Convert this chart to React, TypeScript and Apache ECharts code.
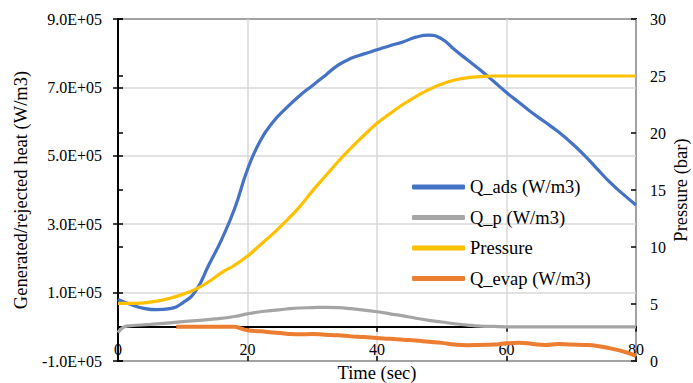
import React, { useEffect, useRef } from "react";
import * as echarts from "echarts";

const time = [0, 2, 4, 6, 8, 10, 12, 14, 16, 18, 20, 22, 24, 26, 28, 30, 32, 34, 36, 38, 40, 42, 44, 46, 48, 50, 52, 54, 56, 58, 60, 62, 64, 66, 68, 70, 72, 74, 76, 78, 80];
const qAds = [0.80, 0.65, 0.54, 0.50, 0.53, 0.70, 1.05, 1.80, 2.55, 3.45, 4.60, 5.45, 6.00, 6.40, 6.75, 7.05, 7.35, 7.65, 7.85, 7.98, 8.10, 8.22, 8.33, 8.47, 8.53, 8.42, 8.10, 7.80, 7.50, 7.18, 6.85, 6.55, 6.25, 5.98, 5.70, 5.38, 5.02, 4.62, 4.22, 3.88, 3.56];
const qPTime = [0, 1, 2, 5, 10, 15, 18, 20, 22, 24, 26, 28, 30, 32, 34, 36, 38, 40, 42, 44, 46, 48, 50, 52, 54, 56, 58, 60, 65, 70, 75, 80];
const qP = [-0.17, 0.0, 0.03, 0.07, 0.15, 0.23, 0.30, 0.38, 0.44, 0.48, 0.52, 0.55, 0.56, 0.57, 0.56, 0.53, 0.49, 0.44, 0.38, 0.32, 0.25, 0.19, 0.14, 0.09, 0.05, 0.02, 0.01, 0.0, 0.0, 0.0, 0.0, 0.0];
const pressure = [5.05, 5.05, 5.1, 5.25, 5.5, 5.85, 6.3, 6.95, 7.75, 8.4, 9.2, 10.2, 11.2, 12.3, 13.5, 14.9, 16.2, 17.5, 18.7, 19.8, 20.85, 21.7, 22.5, 23.2, 23.8, 24.3, 24.65, 24.85, 24.95, 25, 25, 25, 25, 25, 25, 25, 25, 25, 25, 25, 25];
const evapTime = [9, 12, 15, 18, 19, 20, 22, 24, 26, 28, 30, 32, 34, 36, 38, 40, 42, 44, 46, 48, 50, 52, 54, 56, 58, 60, 62, 64, 66, 68, 70, 72, 74, 76, 78, 80];
const qEvap = [0, 0, 0, 0, -0.05, -0.1, -0.13, -0.17, -0.2, -0.22, -0.21, -0.23, -0.25, -0.28, -0.3, -0.33, -0.35, -0.38, -0.4, -0.44, -0.47, -0.52, -0.54, -0.53, -0.52, -0.48, -0.47, -0.5, -0.53, -0.5, -0.52, -0.53, -0.56, -0.63, -0.72, -0.85];
const SCALE = 1e5;

const FONT = "Liberation Serif";

export default function App() {
  const ref = useRef<HTMLDivElement>(null);
  useEffect(() => {
    const chart = echarts.init(ref.current!, undefined, { renderer: "svg" });
    const pairs = (xs: number[], ys: number[], s = 1) => xs.map((x, i) => [x, ys[i] * s]);
    const sci = (v: number) => {
      const e = Math.round(v / 1e4) / 10;
      return (e < 0 ? "-" : "") + Math.abs(e).toFixed(1) + "E+05";
    };
    const tickRich = { t: { color: "#000", fontFamily: FONT, fontSize: 16, lineHeight: 18 } };
    const big = () => ({ color: "#000", fontFamily: FONT, fontSize: 18.5 });
    const tickLine = { color: "#000", width: 1.5 };
    chart.setOption({
      animation: false,
      textStyle: { fontFamily: FONT, color: "#000", fontSize: 16 },
      grid: { left: 118, right: 57, top: 19, bottom: 22, show: true, borderColor: "#000", borderWidth: 2, backgroundColor: "transparent", outerBoundsMode: "none", containLabel: false },
      legend: {
        orient: "vertical",
        left: 412,
        top: 177,
        padding: 0,
        itemWidth: 53,
        itemHeight: 5,
        itemGap: 10.5,
        icon: "roundRect",
        textStyle: { color: "#000", fontFamily: FONT, fontSize: 18.5, lineHeight: 20 },
        data: ["Q_ads (W/m3)", "Q_p (W/m3)", "Pressure", "Q_evap (W/m3)"],
      },
      graphic: [
        {
          type: "text",
          x: 681,
          y: 190,
          rotation: Math.PI / 2,
          style: { text: "Pressure (bar)", fill: "#000", fontFamily: FONT, fontSize: 18.5, align: "center", verticalAlign: "middle" },
        },
      ],
      xAxis: [
        {
          type: "value",
          min: 0,
          max: 80,
          interval: 20,
          position: "bottom",
          name: "Time (sec)",
          nameLocation: "middle",
          nameGap: 2,
          nameTextStyle: big(),
          axisLine: { onZero: true, lineStyle: { color: "#000", width: 2 } },
          axisTick: { show: true, length: 5, lineStyle: tickLine },
          axisLabel: { color: "#000", fontFamily: FONT, fontSize: 16, margin: -21, formatter: (v: number) => `{t|${v}}`, rich: tickRich },
          splitLine: { show: true, lineStyle: { color: "#d9d9d9", width: 1.5 } },
        },
        {
          type: "value",
          min: 0,
          max: 80,
          interval: 20,
          position: "bottom",
          axisLine: { onZero: true, show: false },
          axisTick: { show: true, inside: true, length: 5, lineStyle: tickLine },
          axisLabel: { show: false },
          splitLine: { show: false },
        },
      ],
      yAxis: [
        {
          type: "value",
          min: -1e5,
          max: 9e5,
          interval: 2e5,
          position: "left",
          name: "Generated/rejected heat (W/m3)",
          nameLocation: "middle",
          nameGap: 86,
          nameTextStyle: big(),
          axisLine: { show: true, lineStyle: { color: "#000", width: 2 } },
          axisTick: { show: true, length: 5, lineStyle: tickLine },
          axisLabel: { color: "#000", fontFamily: FONT, fontSize: 16, margin: 16, formatter: (v: number) => `{t|${sci(v)}}`, rich: tickRich },
          splitLine: { show: true, lineStyle: { color: "#d9d9d9", width: 1.5 } },
        },
        {
          type: "value",
          min: 0,
          max: 30,
          interval: 5,
          position: "right",
          axisLine: { show: true, lineStyle: { color: "#000", width: 2 } },
          axisTick: { show: true, length: 5, lineStyle: tickLine },
          axisLabel: { color: "#000", fontFamily: FONT, fontSize: 16, margin: 14, formatter: (v: number) => `{t|${v}}`, rich: tickRich },
          splitLine: { show: false },
        },
        {
          type: "value",
          min: -1e5,
          max: 9e5,
          interval: 2e5,
          position: "left",
          axisLine: { show: false },
          axisTick: { show: true, inside: true, length: 5, lineStyle: tickLine },
          axisLabel: { show: false },
          splitLine: { show: false },
        },
        {
          type: "value",
          min: 0,
          max: 30,
          interval: 5,
          position: "right",
          axisLine: { show: false },
          axisTick: { show: true, inside: true, length: 5, lineStyle: tickLine },
          axisLabel: { show: false },
          splitLine: { show: false },
        },
      ],
      series: [
        {
          name: "Q_ads (W/m3)",
          type: "line",
          yAxisIndex: 0,
          data: pairs(time, qAds, SCALE),
          smooth: 0.5,
          showSymbol: false,
          color: "#4472C4",
          lineStyle: { width: 3.2, color: "#4472C4" },
          z: 2,
        },
        {
          name: "Q_p (W/m3)",
          type: "line",
          yAxisIndex: 0,
          data: pairs(qPTime, qP, SCALE),
          smooth: 0.5,
          showSymbol: false,
          color: "#A5A5A5",
          lineStyle: { width: 3.2, color: "#A5A5A5" },
          z: 3,
        },
        {
          name: "Pressure",
          type: "line",
          yAxisIndex: 1,
          data: pairs(time, pressure),
          smooth: 0.5,
          showSymbol: false,
          color: "#FFC000",
          lineStyle: { width: 3.2, color: "#FFC000" },
          z: 4,
        },
        {
          name: "Q_evap (W/m3)",
          type: "line",
          yAxisIndex: 0,
          data: pairs(evapTime, qEvap, SCALE),
          smooth: 0.5,
          showSymbol: false,
          color: "#ED7D31",
          lineStyle: { width: 4, color: "#ED7D31" },
          z: 5,
        },
      ],
    });
    return () => chart.dispose();
  }, []);
  return <div ref={ref} style={{ width: 693, height: 383, position: "absolute", left: 0, top: 0 }} />;
}
